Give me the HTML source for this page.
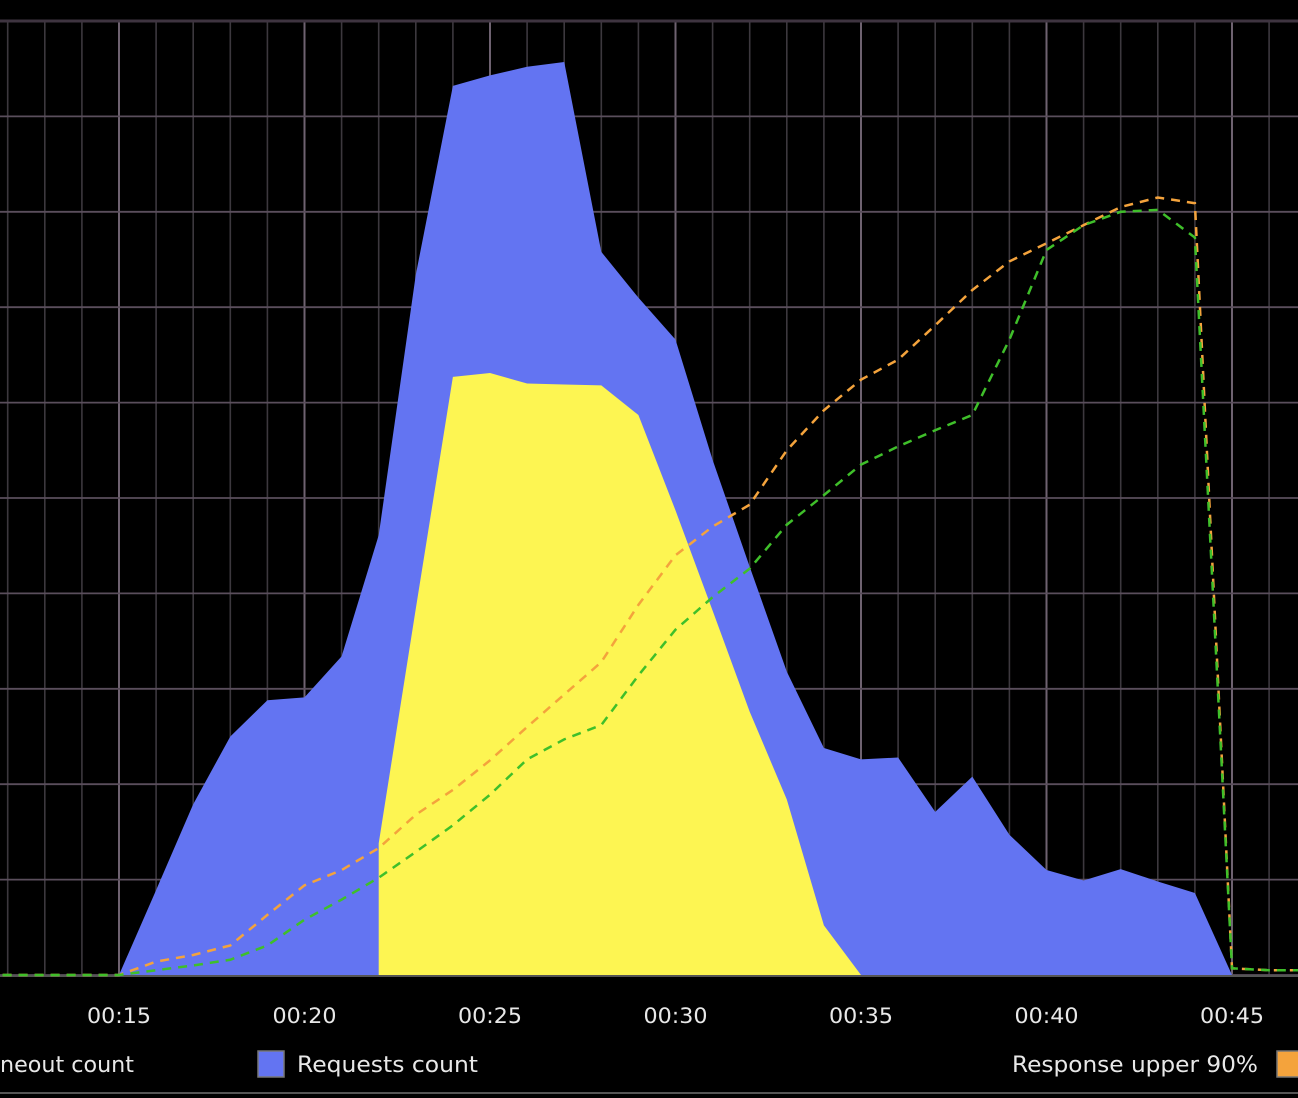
<!DOCTYPE html>
<html><head><meta charset="utf-8"><style>
html,body{margin:0;padding:0;background:#000;}
svg{display:block;}
text{font-family:"DejaVu Sans","Liberation Sans",sans-serif;fill:#e8e8e8;}
</style></head><body>
<svg id="chart" width="1298" height="1098" viewBox="0 0 1298 1098" xmlns="http://www.w3.org/2000/svg">
<rect x="0" y="0" width="1298" height="1098" fill="#000"/>
<g id="grid"></g>
<g id="areas"></g>
<g id="lines"></g>
<g id="xaxis"></g>
<g id="legend">
  <text x="0" y="1072" font-size="22" textLength="134" lengthAdjust="spacingAndGlyphs">neout count</text>
  <rect x="258" y="1051" width="26" height="26" fill="#6374f2" stroke="#777" stroke-width="1.5"/>
  <text x="297" y="1072" font-size="22" textLength="181" lengthAdjust="spacingAndGlyphs">Requests count</text>
  <text x="1012" y="1072" font-size="22" textLength="246" lengthAdjust="spacingAndGlyphs">Response upper 90%</text>
  <rect x="1277" y="1051" width="26" height="26" fill="#f4a33c" stroke="#777" stroke-width="1.5"/>
</g>
<line x1="0" y1="1093" x2="1298" y2="1093" stroke="#555" stroke-width="2"/>
</svg>
<script>
const times = [11,12,13,14,15,16,17,18,19,20,21,22,23,24,25,26,27,28,29,30,31,32,33,34,35,36,37,38,39,40,41,42,43,44,45,46,47];
const requests = [0,0,0,0,0,0.89,1.79,2.50,2.88,2.91,3.34,4.61,7.34,9.32,9.43,9.52,9.57,7.58,7.10,6.66,5.40,4.28,3.18,2.38,2.26,2.28,1.71,2.08,1.47,1.10,0.99,1.11,0.98,0.86,0,0,0];
const yellowTimes = [22,23,24,25,26,27,28,29,30,31,32,33,34,35];
const yellowValues = [1.38,3.84,6.27,6.31,6.20,6.19,6.18,5.87,4.87,3.82,2.76,1.84,0.52,0];
const upper90 = [0,0,0,0,0,0.14,0.21,0.31,0.63,0.94,1.10,1.33,1.68,1.94,2.25,2.60,2.94,3.28,3.88,4.40,4.70,4.93,5.50,5.92,6.24,6.45,6.81,7.18,7.48,7.67,7.86,8.05,8.15,8.09,0.07,0.05,0.05];
const average = [0,0,0,0,0,0.05,0.10,0.16,0.31,0.58,0.79,1.02,1.29,1.57,1.89,2.26,2.47,2.62,3.14,3.62,3.96,4.26,4.72,5.03,5.35,5.54,5.71,5.87,6.66,7.60,7.86,8.00,8.02,7.73,0.07,0.05,0.05];
const xTickLabels = ["00:15","00:20","00:25","00:30","00:35","00:40","00:45"];
const xTickValues = [15,20,25,30,35,40,45];

const NS="http://www.w3.org/2000/svg";
const X0=119, PX=37.1, BASE=975, UNIT=95.4;
function xs(t){return X0+(t-15)*PX;}
function ys(v){return BASE-v*UNIT;}
function mk(tag,parent,attrs){const e=document.createElementNS(NS,tag);for(const k in attrs)e.setAttribute(k,attrs[k]);parent.appendChild(e);return e;}

const grid=document.getElementById('grid');
for(let t=11;t<=47;t++){
  const major=(t%5===0);
  const l=mk('line',grid,{x1:xs(t),y1:21,x2:xs(t),y2:BASE,stroke:major?'#6e6270':'#3c383e','stroke-width':major?2:1.6});
  
  
}
for(let i=0;i<=10;i++){
  const l=mk('line',grid,{x1:0,y1:ys(i),x2:1298,y2:ys(i),stroke:i===10?'#3e3440':'#5a4e5c','stroke-width':i===10?3:1.8});
  
  
}

const areas=document.getElementById('areas');
let d='M'+xs(times[0])+','+BASE;
times.forEach((t,i)=>{d+=' L'+xs(t)+','+ys(requests[i]);});
d+=' L'+xs(times[times.length-1])+','+BASE+' Z';
const ra=mk('path',areas,{d:d,fill:'#6374f2'});


let d2='M'+xs(yellowTimes[0])+','+BASE;
yellowTimes.forEach((t,i)=>{d2+=' L'+xs(t)+','+ys(yellowValues[i]);});
d2+=' L'+xs(yellowTimes[yellowTimes.length-1])+','+BASE+' Z';
const ya=mk('path',areas,{d:d2,fill:'#fdf552'});


const bl=mk('line',areas,{x1:0,y1:BASE+1,x2:1298,y2:BASE+1,stroke:'#555','stroke-width':2});



const lines=document.getElementById('lines');
function series(vals,color,name){
  const pts=times.map((t,i)=>xs(t)+','+ys(vals[i])).join(' ');
  const p=mk('polyline',lines,{points:pts,fill:'none',stroke:color,'stroke-width':2.5,'stroke-dasharray':'9 7'});
  
  
}
series(upper90,'#f4a33c','response-upper-90-line');
series(average,'#3fbf2a','response-average-line');

const xa=document.getElementById('xaxis');
xTickValues.forEach((t,i)=>{
  const tx=mk('text',xa,{x:xs(t)-32,y:1023,'font-size':21,textLength:64,lengthAdjust:'spacingAndGlyphs'});
  tx.textContent=xTickLabels[i];
  
  
});
</script>
</body></html>
